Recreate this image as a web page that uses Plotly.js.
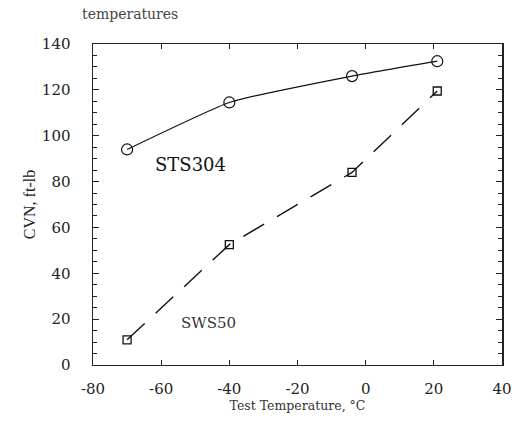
<!DOCTYPE html>
<html>
<head>
<meta charset="utf-8">
<script src="https://cdn.plot.ly/plotly-3.0.1.min.js"></script>
<style>html,body{margin:0;padding:0;background:#fff;}#chart{width:524px;height:422px;}</style>
</head>
<body>
<div id="chart"></div>
<script>
// Data
const temps = [-70, -40, -4, 21];
const sts304 = [94, 114.5, 126, 132.5];
const sws50 = [11, 52.5, 84, 119.5];
const xTicks = [-80, -60, -40, -20, 0, 20, 40];
const yTicks = [0, 20, 40, 60, 80, 100, 120, 140];

const serif = "DejaVu Serif, serif";
const serif2 = "Liberation Serif, serif";

const traces = [
  {
    x: temps, y: sts304, mode: 'lines+markers', name: 'STS304',
    line: {color: '#111', width: 1.2, shape: 'spline', smoothing: 0.4},
    marker: {symbol: 'circle-open', size: 11, color: '#111', line: {width: 1.2}}
  },
  {
    x: temps, y: sws50, mode: 'lines+markers', name: 'SWS50',
    line: {color: '#111', width: 1.4, dash: '24px,15px'},
    marker: {symbol: 'square-open', size: 8, color: '#111', line: {width: 1.3}}
  }
];

const layout = {
  width: 524, height: 422,
  margin: {l: 93, r: 22, t: 44, b: 57},
  paper_bgcolor: '#fff', plot_bgcolor: '#fff',
  showlegend: false,
  font: {family: serif, size: 15, color: '#222'},
  xaxis: {
    range: [-80, 40], tickvals: xTicks, ticktext: xTicks.map(String),
    ticks: 'inside', ticklen: 5, tickcolor: '#222', tickwidth: 1,
    showline: true, linecolor: '#222', linewidth: 1, mirror: 'allticks',
    showgrid: false, zeroline: false, ticklabelstandoff: 10,
    tickfont: {family: serif, size: 15, color: '#222'},
    title: {text: 'Test Temperature, °C', font: {family: serif, size: 12.5, color: '#333'}, standoff: 4}
  },
  yaxis: {
    range: [0, 140], tickvals: yTicks, ticktext: yTicks.map(String),
    ticks: 'inside', ticklen: 6, tickcolor: '#222', tickwidth: 1,
    minor: {dtick: 5, ticks: 'inside', ticklen: 4, tickcolor: '#222', showgrid: false},
    showline: true, linecolor: '#222', linewidth: 1.5, mirror: 'allticks',
    showgrid: false, zeroline: false, ticklabelstandoff: 18,
    tickfont: {family: serif, size: 15, color: '#222'},
    title: {text: 'CVN, ft-lb', font: {family: serif2, size: 16, color: '#222'}, standoff: 2}
  },
  annotations: [
    {xref: 'x', yref: 'y', x: -51.5, y: 87.5, text: 'STS304', showarrow: false,
     font: {family: serif, size: 18, color: '#111'}, xanchor: 'center', yanchor: 'middle'},
    {xref: 'x', yref: 'y', x: -46, y: 18.4, text: 'SWS50', showarrow: false,
     font: {family: serif, size: 15, color: '#333'}, xanchor: 'center', yanchor: 'middle'},
    {xref: 'paper', yref: 'paper', x: (80 - 93) / 409, y: 1, yshift: 30, xanchor: 'left', yanchor: 'middle',
     text: 'temperatures', showarrow: false, font: {family: serif, size: 14, color: '#444'}}
  ]
};

Plotly.newPlot('chart', traces, layout, {displayModeBar: false, staticPlot: true});
</script>
</body>
</html>
